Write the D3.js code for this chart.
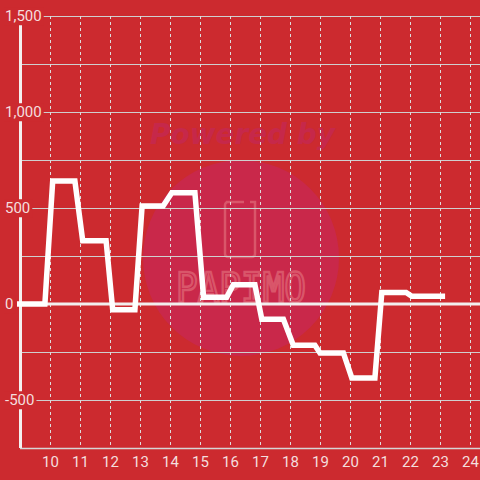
<!DOCTYPE html>
<html>
<head>
<meta charset="utf-8">
<script src="https://cdn.jsdelivr.net/npm/d3@7"></script>
<style>
  html, body { margin: 0; padding: 0; background: #cc2a2f; }
  svg { display: block; }
  text { font-family: Roboto, "Liberation Sans", sans-serif; }
</style>
</head>
<body>
<svg id="mainsvg" width="480" height="480"></svg>
<script>
// hour of day (decimal) and value at each corner of the line
var hours = [8.9, 9.83, 10.09, 10.83, 11.09, 11.87, 12.09, 12.83, 13.07, 13.77,
  14.06, 14.83, 15.12, 15.89, 16.11, 16.83, 17.06, 17.78, 18.11, 18.83,
  19.0, 19.78, 20.06, 20.83, 21.06, 21.87, 22.06, 23.17];
var values = [0, 0, 640, 640, 330, 330, -30, -30, 510, 510,
  580, 580, 35, 35, 100, 100, -80, -80, -215, -215,
  -255, -255, -385, -385, 60, 60, 40, 40];
var xTicks = [10, 11, 12, 13, 14, 15, 16, 17, 18, 19, 20, 21, 22, 23, 24];
var yGrid = [-750, -500, -250, 0, 250, 500, 750, 1000, 1250, 1500];
var yLabels = [-500, 0, 500, 1000, 1500];

var W = 480, H = 480;
var bg = "#cc2a2f";
var svg = d3.select("#mainsvg");

var x = d3.scaleLinear().domain([9, 9 + 460 / 30]).range([20, 480]);
var y = d3.scaleLinear().domain([-750, 1500]).range([448, 16]);

svg.append("rect").attr("width", W).attr("height", H).attr("fill", bg);

// watermark
var wm = svg.append("g").attr("id", "watermark");
wm.append("circle").attr("cx", 241).attr("cy", 258).attr("r", 98).attr("fill", "#c9284a");
wm.append("text")
  .attr("x", 150).attr("y", 144)
  .attr("textLength", 185).attr("lengthAdjust", "spacingAndGlyphs")
  .style("font-family", "'DejaVu Sans', sans-serif")
  .style("font-size", "29px").style("font-weight", "bold").style("font-style", "italic")
  .attr("fill", "#c6284a")
  .text("Powered by");
wm.append("path")
  .attr("d", "M226,202 h18 M250,202 h5 v52 a3,3 0 0 1 -3,3 h-24 a3,3 0 0 1 -3,-3 v-49 a3,3 0 0 1 3,-3")
  .attr("fill", "none").attr("stroke", "#d9566a").attr("stroke-width", 2.5);
wm.append("text")
  .attr("x", 176).attr("y", 302)
  .attr("textLength", 130).attr("lengthAdjust", "spacingAndGlyphs")
  .style("font-size", "40px").style("font-family", "'DejaVu Sans Mono', monospace")
  .attr("fill", "none").attr("stroke", "#d9566a").attr("stroke-width", 2.5)
  .text("PAPIMO");

// grid
var grid = svg.append("g").attr("id", "grid");
grid.selectAll("line.h")
  .data(yGrid.filter(function (d) { return d !== 0; }))
  .enter().append("line")
  .attr("class", "h")
  .attr("x1", 20).attr("x2", W)
  .attr("y1", function (d) { return y(d) + 0.5; })
  .attr("y2", function (d) { return y(d) + 0.5; })
  .attr("stroke", "#cfcfcf").attr("stroke-width", 1.2);

grid.selectAll("line.v")
  .data(xTicks)
  .enter().append("line")
  .attr("class", "v")
  .attr("x1", function (d) { return Math.round(x(d)) + 0.5; })
  .attr("x2", function (d) { return Math.round(x(d)) + 0.5; })
  .attr("y1", y(1500)).attr("y2", y(-750))
  .attr("stroke", "#dddddd").attr("stroke-width", 1)
  .attr("stroke-dasharray", "3,3");

// zero line
grid.append("line")
  .attr("x1", 17).attr("x2", W)
  .attr("y1", y(0)).attr("y2", y(0))
  .attr("stroke", "#f2eeee").attr("stroke-width", 3);

// y axis line
svg.append("line")
  .attr("x1", 20.5).attr("x2", 20.5)
  .attr("y1", y(1500)).attr("y2", y(-750))
  .attr("stroke", "#f4f0f0").attr("stroke-width", 3);

// data line
var line = d3.line()
  .x(function (d, i) { return x(hours[i]); })
  .y(function (d) { return y(d); });
svg.append("path")
  .datum(values)
  .attr("d", line)
  .attr("fill", "none")
  .attr("stroke", "#ffffff")
  .attr("stroke-width", 5.5)
  .attr("stroke-linejoin", "miter");

// y labels with background boxes
var yl = svg.append("g").attr("id", "ylabels")
  .selectAll("g").data(yLabels).enter().append("g");
var ytext = yl.append("text")
  .attr("x", 5)
  .attr("y", function (d) { return y(d); })
  .attr("dy", "0.35em")
  .style("font-size", "15px")
  .attr("fill", "#f4dede")
  .text(function (d) { return d3.format(",")(d).replace("−", "-"); });
ytext.each(function () {
  var b = this.getBBox();
  d3.select(this.parentNode).insert("rect", "text")
    .attr("x", b.x - 1).attr("y", b.y)
    .attr("width", b.width + 3).attr("height", b.height)
    .attr("fill", bg);
});

// x axis
svg.append("line")
  .attr("x1", 20).attr("x2", W)
  .attr("y1", 448.5).attr("y2", 448.5)
  .attr("stroke", "#d6d6d6").attr("stroke-width", 1.5);
svg.append("g").attr("id", "xlabels")
  .selectAll("text").data(xTicks).enter().append("text")
  .attr("x", function (d) { return x(d) + 0.5; })
  .attr("y", 462)
  .attr("dy", "0.35em")
  .attr("text-anchor", "middle")
  .style("font-size", "15px")
  .attr("fill", "#f4dede")
  .text(function (d) { return d; });
</script>
</body>
</html>
